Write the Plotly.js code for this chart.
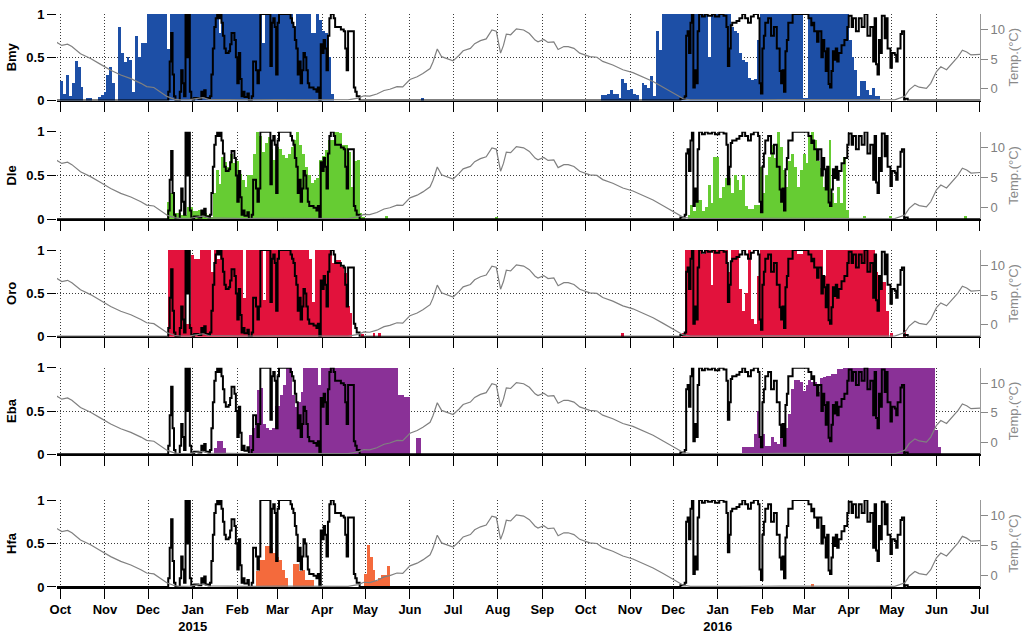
<!DOCTYPE html>
<html><head><meta charset="utf-8">
<script src="https://cdn.plot.ly/plotly-3.0.1.min.js"></script>
<style>html,body{margin:0;padding:0;background:#fff}#chart{width:1029px;height:635px}</style>
</head><body><div id="chart"></div>
<script>
// ---------- DATA ----------
// day offsets are counted from 2014-10-01
const speciesNames = ['Bmy', 'Dle', 'Oro', 'Eba', 'Hfa'];
const monthTicks = ['2014-10-01','2014-11-01','2014-12-01','2015-01-01','2015-02-01','2015-03-01','2015-04-01','2015-05-01','2015-06-01','2015-07-01','2015-08-01','2015-09-01','2015-10-01','2015-11-01','2015-12-01','2016-01-01','2016-02-01','2016-03-01','2016-04-01','2016-05-01','2016-06-01','2016-07-01'];
const monthLabels = ['Oct','Nov','Dec','Jan<br>2015','Feb','Mar','Apr','May','Jun','Jul','Aug','Sep','Oct','Nov','Dec','Jan<br>2016','Feb','Mar','Apr','May','Jun','Jul'];

// 2-day detection fractions, season 1 and season 2 (start day, values)
const bmyStart = [0, 376];
const bmyVals1 = [0.23,0.08,0.3,0.05,0.2,0.46,0.39,0.16,0,0.03, 0.03,0,0,0.04,0.06,0.1,0.3,0.39,0.2,0, 0.85,0.55,0.45,0.5,0.47,0.1,0.75,0.5,0.67,0.67, 1,1,1,1,1,1,1,0.6,1,1, 1,1,1,1,1,1,1,1,1,1, 1,1,1,1,1,0.78,1,1,1,1, 1,1,1,1,1,1,1,1,1,1, 0.66,1,1,1,1,1,1,1,1,1, 1,0.85,1,1,1,1,1,0.78,0.78,1, 0.93,0.8,0.78,0.5,0.07];
const bmyVals2 = [0.06,0.06,0.08,0.12,0.07,0.08,0.03,0.25,0.2,0.12, 0.13,0.08,0.06,0,0.2,0.18,0.15,0.28,0.05,0.8, 0.58,1,1,1,1,1,1,1,1,1, 1,1,1,1,1,1,1,0.5,1,1, 1,1,1,1,1,0.85,0.8,0.78,0.55,0.47, 0.45,0.26,0.24,0.25,0.7,1,1,1,1,1, 1,1,1,1,1,1,1,1,1,1, 0.03,0.03,1,1,1,1,1,1,1,1, 1,1,1,1,1,1,0.7,0.5,0.35,0.05, 0.22,0.22,0.12,0.06,0.14,0.05,0.05];
const bmyExtraDay = [251];
const bmyExtraVal = [0.03];

const dleStart = [74, 436];
const dleVals1 = [0.2,0.3,0.2,0.07,0.07,0.05,0.05,0.14,0.14,0.09, 0.09,0.1,0.1,0.07,0.05,0.03,0.3,0.56,0.4,0.71, 0.65,0.6,0.75,0.64,0.66,0.52,0.45,0.37,0.5,0.5, 0.75,1,0.95,0.77,0.87,0.94,0.8,0.68,0.83,0.8, 0.73,0.7,0.75,0.83,0.9,1,0.85,0.75,0.6,0.5, 0.41,0.45,0.47,0.68,0.72,0.79,0.9,0.9,1,1, 0.98,0.85,0.85,0.77,0.37,0.66,0.68,0.07,0.03];
const dleVals2 = [0.05,0.16,0.09,0.22,0.22,0.09,0.14,0.39,0.18,0.71, 0.71,0.24,0.37,0.47,0.47,0.3,0.5,0.45,0.33,0.5, 0.15,0.12,0.12,0.16,0.16,0.6,0.3,0.5,0.71,0.85, 0.7,1,0.83,0.56,0.37,0.66,0.75,0.6,0.37,0.56, 0.75,0.64,0.96,1,0.9,0.67,0.58,0.37,0.48,0.9, 0.3,0.18,0.37,0.18,0.71,0.1];
const dleExtraDay = [226, 302, 558, 576, 628];
const dleExtraVal = [0.04, 0.03, 0.04, 0.04, 0.04];

const oroStart = [75, 432];
const oroVals1 = [1,1,1,1,1,1,0.15,0.15,0.94,0.9, 0.9,1,1,1,1,0.75,1,0.9,1,1, 1,1,1,1,1,1,0.45,1,1,1, 1,1,1,0.42,1,1,1,1,1,1, 1,1,1,1,1,1,1,1,1,0.9, 0.4,1,1,1,1,1,1,0.85,0.88,0.88, 0.8,0.73,0.35,0.27];
const oroVals2 = [0.04,1,1,1,1,1,1,0.95,1,1, 0.6,1,1,1,1,1,0.75,1,1,1, 0.55,0.3,0.5,1,0.2,0.15,0.7,1,1,1, 1,1,1,1,1,1,1,1,1,1, 0.95,0.95,1,1,1,1,1,1,1,0.7, 1,1,1,1,1,1,1,1,1,1, 1,1,1,1,1,1,1,0.75,0.63,0.63, 0.63,0.3];
const oroExtraDay = [209, 217, 221, 390, 577, 586];
const oroExtraVal = [0.03, 0.04, 0.04, 0.04, 0.04, 0.08];

const ebaStart = [107, 474];
const ebaVals1 = [0.07,0.15,0.15,0.07,0,0,0,0,0,0, 0,0,0.22,0.3,0.45,0.74,0.76,0.35,0.3,0.28, 0.3,0.56,0.56,0.68,0.8,1,1,0.68,0.55,0.6, 0.72,1,1,1,1,1,0.8,1,1,1, 1,1,1,1,1,1,1,1,1,1, 1,1,1,1,1,1,1,1,1,1, 1,1,1,1,0.68,0.68,0.66,0.66,0,0, 0.19,0.19];
const ebaVals2 = [0.08,0.08,0.08,0.08,0.24,0.5,0.16,0.24,0.1,0.1, 0.2,0.14,0.12,0.2,0.2,0.3,0.46,0.75,0.86,0.86, 0.84,0.73,0.8,0.86,0.83,0.83,0.72,0.88,0.89,0.91, 0.91,0.93,0.93,0.98,0.98,1,1,1,1,1, 1,1,1,1,1,1,1,1,1,1, 1,1,1,1,1,1,1,1,1,1, 1,1,1,1,1,1,1,0.28,0.09];
const ebaExtraDay = [];
const ebaExtraVal = [];

const hfaStart = [136, 211];
const hfaVals1 = [0.18,0.31,0.31,0.47,0.47,0.45,0.39,0.35,0.31,0.2, 0.1,0,0,0.26,0.26,0.18,0.2,0.08,0.08,0.08];
const hfaVals2 = [0.15,0.48,0.35,0.2,0.07,0.1,0.14,0.14,0.24];
const hfaExtraDay = [522];
const hfaExtraVal = [0.03];

// sea-ice line: [day, fraction]
const icePoints = [[-3,0],[74,0],[75,0.1],[76,0.45],[77,0.78],[78,0.3],[79,0.05],[80,0],[83,0.1],[84,0.35],[85,0.2],[86,0.05],[87,1],[88,0.5],[89,1],[90,0.1],[91,0.02],[92,0],[93,0.03],[96,0.02],[98,0.1],[99,0.05],[100,0.12],[101,0.03],[103,0.02],[104,0.05],[105,0.3],[106,0.6],[107,0.85],[108,0.95],[109,1],[110,0.95],[111,1],[112,0.9],[113,0.75],[114,0.6],[115,0.55],[117,0.57],[118,0.65],[119,0.78],[121,0.7],[122,0.5],[123,0.2],[124,0.55],[125,0.25],[126,0.05],[127,0.1],[128,0.04],[130,0.08],[131,0],[133,0.05],[134,0.45],[136,0.35],[137,0.2],[138,0.35],[139,1],[145,1],[146,0.4],[147,0.9],[148,0.95],[149,0.85],[150,0.3],[151,0.9],[152,1],[159,1],[160,0.95],[161,0.9],[162,0.85],[163,0.7],[164,0.6],[165,0.3],[166,0.45],[167,0.2],[168,0.35],[169,0.55],[170,0.5],[171,0.35],[172,0.2],[173,0.15],[176,0.13],[178,0.1],[179,0.15],[180,0],[181,0.65],[182,0.55],[183,0.7],[184,0.6],[185,0.35],[186,0.75],[187,0.95],[188,1],[190,0.95],[191,0.85],[193,0.85],[195,0.82],[197,0.8],[198,0.6],[199,0.35],[200,0.8],[203,0.8],[204,0.15],[205,0.1],[206,0.05],[208,0],
 [425,0],[431,0.02],[434,0.05],[435,0.75],[436,0.8],[437,0.55],[438,0.9],[439,1],[440,0.15],[441,0.35],[442,0.2],[443,0.8],[444,1],[446,0.97],[448,1],[450,0.98],[453,1],[455,0.97],[458,1],[461,0.98],[463,0.85],[464,0.4],[465,0.6],[466,0.87],[467,0.9],[470,0.92],[472,0.95],[474,1],[476,0.95],[478,0.9],[480,0.97],[482,1],[485,0.95],[486,0.2],[487,0.08],[488,0.6],[489,0.75],[490,0.9],[492,0.95],[494,0.75],[496,0.85],[498,0.6],[500,0.34],[501,0.2],[502,0.35],[503,0.1],[504,0.57],[505,0.7],[506,0.9],[509,1],[517,1],[520,0.95],[522,0.87],[523,0.9],[524,0.8],[526,0.68],[527,0.8],[529,0.5],[530,0.7],[531,0.57],[532,0.34],[533,0.6],[534,0.19],[535,0.15],[536,0.34],[537,0.57],[538,0.47],[539,0.6],[540,0.45],[541,0.55],[543,0.64],[545,0.7],[547,0.85],[548,0.98],[550,0.85],[551,0.95],[553,0.8],[555,0.95],[557,0.85],[559,1],[561,0.75],[563,0.85],[565,0.45],[566,0.95],[567,0.42],[568,0.3],[569,0.7],[570,0.55],[571,0.98],[573,0.72],[574,0.95],[575,0.6],[577,0.38],[578,0.55],[580,0.53],[581,0.45],[582,0.6],[584,0.77],[585,0.8],[586.5,0],[587,0.02],[589,0],[642,0]];

// water temperature: [day, degC]
const tempPoints = [[-3,7.9],[1,7.3],[5,7.5],[8,7.1],[14,5.9],[21,5.1],[28,4.1],[35,3.1],[42,2.3],[49,1.7],[56,0.9],[60,0.35],[65,0.2],[69,-0.5],[74,-1.3],[79,-1.75],[83,-1.88],[90,-1.85],[95,-1.7],[99,-1.5],[103,-1.8],[110,-1.85],[130,-1.9],[150,-1.85],[170,-1.9],[190,-1.85],[200,-1.9],[207,-1.6],[211,-1.2],[215,-1.25],[220,-0.9],[225,-0.3],[229,-0.1],[234,0.35],[238,0.3],[243,1.55],[248,2.0],[252,2.55],[257,3.4],[259,4.5],[262,6.7],[265,5.4],[270,4.9],[273,4.7],[277,5.6],[280,6.4],[285,6.8],[288,7.6],[292,8.1],[296,8.4],[300,9.9],[303,9.7],[306,6.0],[308,7.3],[310,9.2],[313,9.1],[317,10.1],[322,9.9],[326,9.3],[330,8.2],[332,7.9],[336,8.3],[339,7.8],[343,7.9],[346,6.6],[350,7.1],[353,7.1],[357,6.8],[361,6.0],[368,5.4],[373,5.3],[377,4.6],[384,4.0],[391,3.2],[398,2.7],[405,2.0],[412,1.2],[419,0.25],[426,-0.75],[433,-1.7],[438,-1.88],[450,-1.85],[470,-1.9],[500,-1.85],[530,-1.9],[560,-1.85],[580,-1.9],[587,-1.3],[590,-0.2],[594,0.6],[597,0.25],[602,0.05],[605,0.9],[609,2.9],[612,3.7],[616,3.2],[620,4.3],[624,5.4],[627,6.5],[630,6.2],[633,5.7],[637,5.7],[640,5.8]];

// ---------- BUILD ----------
const BASE = Date.UTC(2014, 9, 1);
const DAY = 864e5;
const dms = d => BASE + d * DAY;
const FONT = 'Liberation Sans, Arial, Helvetica, sans-serif';
const colors = ['#1d4fa6', '#66cc33', '#e2123c', '#8a3197', '#f46a3c'];

const seasons = [
  [bmyStart, [bmyVals1, bmyVals2], bmyExtraDay, bmyExtraVal],
  [dleStart, [dleVals1, dleVals2], dleExtraDay, dleExtraVal],
  [oroStart, [oroVals1, oroVals2], oroExtraDay, oroExtraVal],
  [ebaStart, [ebaVals1, ebaVals2], ebaExtraDay, ebaExtraVal],
  [hfaStart, [hfaVals1, hfaVals2], hfaExtraDay, hfaExtraVal]
];

const domains = [[0.849,1],[0.642,0.7946],[0.4368,0.588],[0.2316,0.3827],[0,0.1518]];
const xRange = ['2014-09-28 16:00', '2016-07-01 06:00'];
const GRID = '#3a3a3a';
const GRIDDASH = '1px,2px';

const traces = [];
const layout = {
  width: 1029, height: 635,
  margin: {l: 57, r: 49, t: 14, b: 48},
  paper_bgcolor: '#fff', plot_bgcolor: 'rgba(0,0,0,0)',
  showlegend: false,
  bargap: 0,
  font: {family: FONT, size: 13, color: '#000'}
};

speciesNames.forEach((name, i) => {
  const xid = i === 0 ? 'x' : 'x' + (i + 1);
  const yl = 'y' + (2 * i + 1 === 1 ? '' : 2 * i + 1);
  const yr = 'y' + (2 * i + 2);
  const [starts, valsList, exD, exV] = seasons[i];
  const bx = [], by = [];
  starts.forEach((s, k) => {
    valsList[k].forEach((v, j) => { bx.push(dms(s + 2 * j + 1)); by.push(v); });
  });
  exD.forEach((d, j) => { bx.push(dms(d + 1)); by.push(exV[j]); });

  traces.push({type: 'bar', x: bx, y: by, width: 2 * DAY, xaxis: xid, yaxis: yl,
    marker: {color: colors[i], line: {width: 0}}, hoverinfo: 'skip'});
  traces.push({type: 'scatter', mode: 'lines', x: icePoints.map(p => dms(p[0])), y: icePoints.map(p => p[1]),
    xaxis: xid, yaxis: yl, line: {color: '#000', width: 2, shape: 'hv'}, hoverinfo: 'skip'});
  traces.push({type: 'scatter', mode: 'lines', x: tempPoints.map(p => dms(p[0])), y: tempPoints.map(p => p[1]),
    xaxis: xid, yaxis: yr, line: {color: '#808080', width: 1.2}, hoverinfo: 'skip'});

  const xKey = i === 0 ? 'xaxis' : 'xaxis' + (i + 1);
  const ylKey = 'yaxis' + (2 * i + 1 === 1 ? '' : 2 * i + 1);
  const yrKey = 'yaxis' + (2 * i + 2);
  layout[xKey] = {
    type: 'date', range: xRange, domain: [0, 1], anchor: yl,
    tickmode: 'array', tickvals: monthTicks, ticktext: monthLabels,
    showticklabels: i === 4, ticks: 'outside', ticklen: 10, tickwidth: 1, tickcolor: '#000',
    ticklabelstandoff: 0,
    showgrid: true, gridcolor: GRID, griddash: GRIDDASH, gridwidth: 1,
    showline: true, linecolor: '#000', linewidth: 1.5, zeroline: false,
    tickfont: {family: FONT, size: 13, color: '#000', weight: 'bold'}
  };
  layout[ylKey] = {
    domain: domains[i], anchor: xid, range: [0, 1],
    tickmode: 'array', tickvals: [0, 0.5, 1], ticktext: ['0', '0.5', '1'],
    ticks: 'outside', ticklen: 9, tickcolor: '#000', tickwidth: 1,
    showgrid: true, gridcolor: GRID, griddash: GRIDDASH, gridwidth: 1,
    zeroline: false, showline: false,
    tickfont: {family: FONT, size: 13, color: '#000', weight: 'bold'},
    title: {text: name, font: {family: FONT, size: 13, color: '#000', weight: 'bold'}, standoff: 6}
  };
  layout[yrKey] = {
    overlaying: yl, side: 'right', anchor: xid, range: [-2, 12.6],
    tickmode: 'array', tickvals: [0, 5, 10], ticktext: ['0', '5', '10'],
    ticks: 'outside', ticklen: 7, tickcolor: '#888', tickwidth: 1,
    showgrid: false, zeroline: false, showline: true, linecolor: '#999', linewidth: 1,
    tickfont: {family: FONT, size: 13, color: '#808080'},
    title: {text: 'Temp.(°C)', font: {family: FONT, size: 13, color: '#8a8a8a'}, standoff: 4}
  };
});

Plotly.newPlot('chart', traces, layout, {staticPlot: true, displayModeBar: false});
</script>
</body></html>
